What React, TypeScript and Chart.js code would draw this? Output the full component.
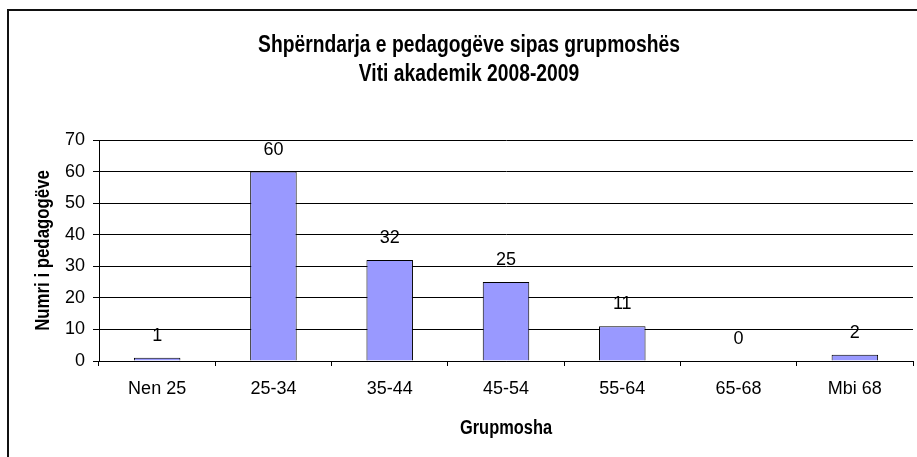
import React, { useEffect, useRef } from "react";
import { Chart, registerables } from "chart.js";

Chart.register(...registerables);

const categories = ["Nen 25", "25-34", "35-44", "45-54", "55-64", "65-68", "Mbi 68"];
const values = [1, 60, 32, 25, 11, 0, 2];
const yMin = 0;
const yMax = 70;
const yStep = 10;
const titleLines = ["Shpërndarja e pedagogëve sipas grupmoshës", "Viti akademik 2008-2009"];
const yTitle = "Numri i pedagogëve";
const xTitle = "Grupmosha";

const ARIAL = "'Liberation Sans', Arial, sans-serif";
const NARROW_SCALE = 0.82;

function narrowText(
  ctx: CanvasRenderingContext2D,
  text: string,
  x: number,
  y: number,
  size: number,
  rotate: number,
  baseline: CanvasTextBaseline
) {
  ctx.save();
  ctx.font = `bold ${size}px ${ARIAL}`;
  ctx.fillStyle = "#000";
  ctx.textAlign = "center";
  ctx.textBaseline = baseline;
  ctx.translate(x, y);
  if (rotate) ctx.rotate(rotate);
  ctx.scale(NARROW_SCALE, 1);
  ctx.fillText(text, 0, 0);
  ctx.restore();
}

const textPlugin = {
  id: "narrowTexts",
  afterDraw(chart: any) {
    const ctx = chart.ctx as CanvasRenderingContext2D;
    const area = chart.chartArea;
    narrowText(ctx, titleLines[0], 469, 52, 23.5, 0, "alphabetic");
    narrowText(ctx, titleLines[1], 469, 81, 23.5, 0, "alphabetic");
    narrowText(ctx, yTitle, 43, (area.top + area.bottom) / 2, 20.5, -Math.PI / 2, "middle");
    narrowText(ctx, xTitle, (area.left + area.right) / 2, 428, 20, 0, "middle");
  },
};

const valueLabels = {
  id: "valueLabels",
  afterDatasetsDraw(chart: any) {
    const ctx = chart.ctx;
    const meta = chart.getDatasetMeta(0);
    ctx.save();
    ctx.font = `18px ${ARIAL}`;
    ctx.fillStyle = "#000";
    ctx.textAlign = "center";
    ctx.textBaseline = "middle";
    meta.data.forEach((el: any, i: number) => {
      ctx.fillText(String(values[i]), el.x, el.y - 22);
    });
    ctx.restore();
  },
};

export default function App() {
  const ref = useRef<HTMLCanvasElement | null>(null);
  useEffect(() => {
    if (!ref.current) return;
    const chart = new Chart(ref.current, {
      type: "bar",
      data: {
        labels: categories,
        datasets: [
          {
            data: values,
            backgroundColor: "#9999FF",
            borderColor: "#000000",
            borderWidth: 1,
            barPercentage: 0.4,
            categoryPercentage: 1,
          },
        ],
      },
      options: {
        animation: false,
        responsive: false,
        maintainAspectRatio: false,
        layout: { padding: { top: 140, right: 4, left: 0, bottom: 0 } },
        plugins: {
          legend: { display: false },
          tooltip: { enabled: false },
          title: { display: false },
        },
        scales: {
          x: {
            grid: {
              display: true,
              drawOnChartArea: false,
              drawTicks: true,
              tickLength: 5,
              color: "#000",
              offset: true,
            },
            border: { color: "#000", width: 1 },
            ticks: {
              font: { family: ARIAL, size: 18 },
              color: "#000",
              padding: 12,
              maxRotation: 0,
              autoSkip: false,
            },
            title: { display: false },
            afterFit: (s: any) => {
              s.height = 96;
            },
          },
          y: {
            min: yMin,
            max: yMax,
            ticks: {
              stepSize: yStep,
              font: { family: ARIAL, size: 18 },
              color: "#000",
              padding: 8,
            },
            grid: { color: "#000", tickLength: 6, drawTicks: true },
            border: { color: "#000", width: 1 },
            title: { display: false },
            afterFit: (s: any) => {
              s.width = 99;
            },
          },
        },
      } as any,
      plugins: [textPlugin, valueLabels],
    });
    return () => chart.destroy();
  }, []);

  return (
    <div style={{ position: "fixed", left: 0, top: 0, width: 917, height: 457, overflow: "hidden", background: "#fff" }}>
      <div
        style={{
          position: "absolute",
          left: 7,
          top: 9,
          width: 1000,
          height: 1000,
          borderLeft: "2px solid #111",
          borderTop: "2px solid #111",
        }}
      />
      <canvas ref={ref} width={917} height={457} style={{ position: "absolute", left: 0, top: 0, width: 917, height: 457 }} />
    </div>
  );
}
